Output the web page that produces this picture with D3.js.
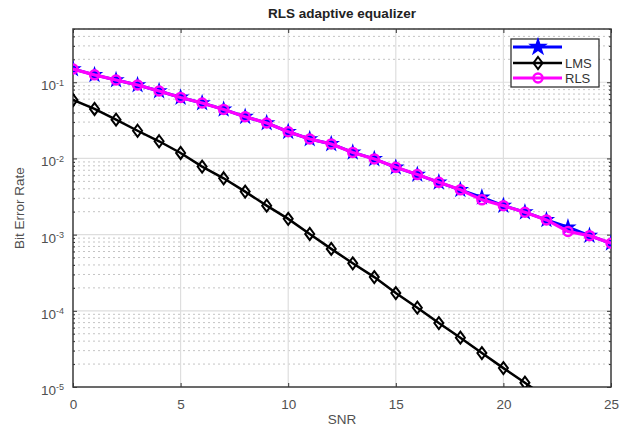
<!DOCTYPE html>
<html><head><meta charset="utf-8">
<script src="https://cdn.jsdelivr.net/npm/d3@7"></script>
<style>body{margin:0;background:#fff}svg{display:block;font-family:"Liberation Sans",Arial,sans-serif}</style>
</head><body><svg id="c" width="632" height="428"></svg>
<script>
const snr = d3.range(0, 26);
const starBer = [0.149,0.125,0.107,0.0919,0.0767,0.0632,0.0534,0.044,0.0353,0.0292,0.0224,0.018,0.0155,0.012,0.00985,0.00764,0.00614,0.00486,0.00387,0.00309,0.0024,0.00197,0.00156,0.00125,0.00097,0.00077];
const lmsBer = [0.0585,0.0446,0.0323,0.0231,0.0168,0.0118,0.00781,0.00549,0.00367,0.0024,0.00161,0.00102,0.00065,0.00042,0.000277,0.000171,0.00011,0.000069,0.0000444,0.0000279,0.0000177,0.0000114,0.0000072];
const rlsBer = [0.149,0.125,0.107,0.0919,0.0767,0.0632,0.0534,0.044,0.0353,0.0292,0.0224,0.018,0.0155,0.012,0.00985,0.00764,0.00614,0.00486,0.00387,0.00286,0.0024,0.00197,0.00156,0.0011,0.00097,0.00077];
const xTicks = [0,5,10,15,20,25];
const yTicks = [1e-5,1e-4,1e-3,1e-2,1e-1];
const yExp = ["-5","-4","-3","-2","-1"];
const legendNames = ["", "LMS", "RLS"];

const svg = d3.select("#c");
const L=73,R=611,T=29,B=387;
const x = d3.scaleLinear().domain([0,25]).range([L,R]);
const y = d3.scaleLog().domain([1e-5,0.5]).range([B,T]);

svg.append("defs").append("clipPath").attr("id","clip").append("rect")
  .attr("x",L).attr("y",T).attr("width",R-L).attr("height",B-T);

// minor y grid
const minor=[];
for(let e=-5;e<=-1;e++) for(let k=2;k<=9;k++){const v=k*Math.pow(10,e); if(v<=0.5) minor.push(v);}
svg.append("g").selectAll("line").data(minor).join("line")
  .attr("x1",L).attr("x2",R).attr("y1",d=>y(d)).attr("y2",d=>y(d))
  .attr("stroke","#c4c4c4").attr("stroke-width",1).attr("stroke-dasharray","2,3");
// major grid
svg.append("g").selectAll("line").data(yTicks.slice(1)).join("line")
  .attr("x1",L).attr("x2",R).attr("y1",d=>y(d)).attr("y2",d=>y(d))
  .attr("stroke","#dedede").attr("stroke-width",1.2);
svg.append("g").selectAll("line").data(xTicks.slice(1,-1)).join("line")
  .attr("y1",T).attr("y2",B).attr("x1",d=>x(d)).attr("x2",d=>x(d))
  .attr("stroke","#dedede").attr("stroke-width",1.2);

// axes
const gx = svg.append("g").attr("transform",`translate(0,${B})`)
  .call(d3.axisBottom(x).tickValues(xTicks).tickSize(-4).tickPadding(12).tickFormat(d3.format("d")));
const gxt = svg.append("g").attr("transform",`translate(0,${T})`)
  .call(d3.axisTop(x).tickValues(xTicks).tickSize(-4).tickFormat(""));
const gy = svg.append("g").attr("transform",`translate(${L},0)`)
  .call(d3.axisLeft(y).tickValues(yTicks).tickSize(-4).tickPadding(9).tickFormat(()=>"10"));
const gyr = svg.append("g").attr("transform",`translate(${R},0)`)
  .call(d3.axisRight(y).tickValues(yTicks).tickSize(-4).tickFormat(""));
const gym = svg.append("g").attr("transform",`translate(${L},0)`)
  .call(d3.axisLeft(y).tickValues(minor).tickSize(-2).tickFormat(""));
const gymr = svg.append("g").attr("transform",`translate(${R},0)`)
  .call(d3.axisRight(y).tickValues(minor).tickSize(-2).tickFormat(""));
[gx,gxt,gy,gyr,gym,gymr].forEach(g=>{
  g.select(".domain").remove();
  g.selectAll("line").attr("stroke","#333");
  g.selectAll("text").attr("fill","#505050").style("font-size","13.5px").style("font-family","Liberation Sans, Arial, sans-serif");
});
gy.selectAll(".tick text").each(function(d,i){
  const t=d3.select(this);
  t.append("tspan").attr("dy","-0.5em").style("font-size","9px").text(yExp[i]);
}).attr("dy","0.55em");
svg.append("rect").attr("x",L).attr("y",T).attr("width",R-L).attr("height",B-T)
  .attr("fill","none").attr("stroke","#3a3a3a").attr("stroke-width",1.5);

// series
const plot = svg.append("g").attr("clip-path","url(#clip)");
const line = d3.line().x((d,i)=>x(snr[i])).y(d=>y(d));
const star = d3.symbol().type(d3.symbolStar).size(95);
const diamond = "M0,-6L4.5,0L0,6L-4.5,0Z";

plot.append("path").datum(starBer).attr("d",line).attr("fill","none").attr("stroke","#0000ff").attr("stroke-width",3);
plot.append("g").selectAll("path").data(starBer).join("path")
  .attr("transform",(d,i)=>`translate(${x(snr[i])},${y(d)})`).attr("d",star()).attr("fill","#0000ff");

plot.append("path").datum(lmsBer).attr("d",line).attr("fill","none").attr("stroke","#000").attr("stroke-width",2.5);
plot.append("g").selectAll("path").data(lmsBer).join("path")
  .attr("transform",(d,i)=>`translate(${x(snr[i])},${y(d)})`).attr("d",diamond)
  .attr("fill","none").attr("stroke","#000").attr("stroke-width",2);

plot.append("path").datum(rlsBer).attr("d",line).attr("fill","none").attr("stroke","#ff00ff").attr("stroke-width",3.2);
plot.append("g").selectAll("circle").data(rlsBer).join("circle")
  .attr("cx",(d,i)=>x(snr[i])).attr("cy",d=>y(d)).attr("r",4.5)
  .attr("fill","none").attr("stroke","#ff00ff").attr("stroke-width",2.5);

// title & labels
svg.append("text").attr("x",(L+R)/2).attr("y",18).attr("text-anchor","middle")
  .style("font-size","13.5px").style("font-weight","bold").attr("fill","#222").text("RLS adaptive equalizer");
svg.append("text").attr("x",(L+R)/2).attr("y",424).attr("text-anchor","middle")
  .style("font-size","13.5px").attr("fill","#505050").text("SNR");
svg.append("text").attr("transform",`translate(24,${(T+B)/2}) rotate(-90)`).attr("text-anchor","middle")
  .style("font-size","13.5px").attr("fill","#505050").text("Bit Error Rate");

// legend
const lg = svg.append("g");
lg.append("rect").attr("x",511).attr("y",39).attr("width",88).attr("height",48)
  .attr("fill","#fff").attr("stroke","#333").attr("stroke-width",1.3);
const rows=[47,63,78];
const cols=["#0000ff","#000","#ff00ff"];
rows.forEach((ry,i)=>{
  lg.append("line").attr("x1",513).attr("x2",562).attr("y1",ry).attr("y2",ry).attr("stroke",cols[i]).attr("stroke-width",i===1?2.5:3);
  if(i===0) lg.append("path").attr("transform",`translate(538,${ry})`).attr("d",d3.symbol().type(d3.symbolStar).size(120)()).attr("fill","#0000ff");
  if(i===1) lg.append("path").attr("transform",`translate(538,${ry})`).attr("d",diamond).attr("fill","none").attr("stroke","#000").attr("stroke-width",2);
  if(i===2) lg.append("circle").attr("cx",538).attr("cy",ry).attr("r",4.5).attr("fill","none").attr("stroke","#ff00ff").attr("stroke-width",2.5);
  lg.append("text").attr("x",565).attr("y",ry+4.5).style("font-size","13px").attr("fill","#333").text(legendNames[i]);
});
</script></body></html>
